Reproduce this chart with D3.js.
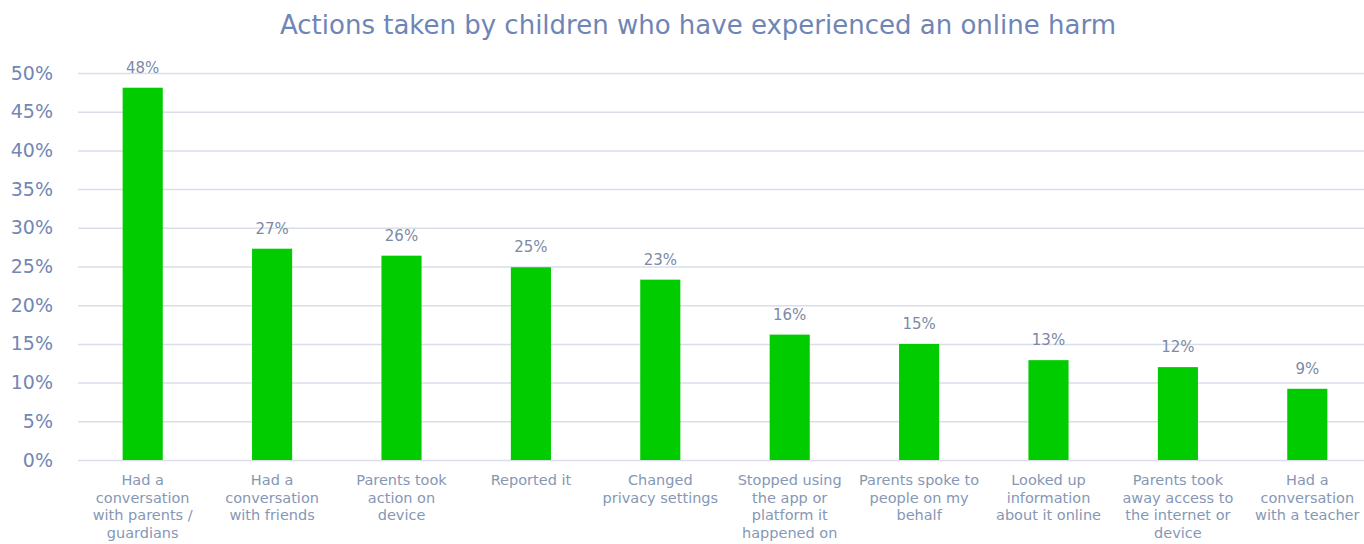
<!DOCTYPE html>
<html>
<head>
<meta charset="utf-8">
<script src="https://cdn.jsdelivr.net/npm/d3@7"></script>
<style>
  html, body { margin: 0; padding: 0; background: #fff; }
  svg { display: block; font-family: "DejaVu Sans", sans-serif; }
</style>
</head>
<body>
<div id="chart"></div>
<script>
const title = "Actions taken by children who have experienced an online harm";
const categories = [
  "Had a\nconversation\nwith parents /\nguardians",
  "Had a\nconversation\nwith friends",
  "Parents took\naction on\ndevice",
  "Reported it",
  "Changed\nprivacy settings",
  "Stopped using\nthe app or\nplatform it\nhappened on",
  "Parents spoke to\npeople on my\nbehalf",
  "Looked up\ninformation\nabout it online",
  "Parents took\naway access to\nthe internet or\ndevice",
  "Had a\nconversation\nwith a teacher"
];
const values = [48.1, 27.3, 26.4, 24.9, 23.3, 16.2, 15.0, 12.9, 12.0, 9.2];
const yTicks = [0, 5, 10, 15, 20, 25, 30, 35, 40, 45, 50];

const width = 1364, height = 544;
const margin = { top: 73, right: -8, bottom: 84, left: 78 };
const innerWidth = width - margin.left - margin.right;
const innerHeight = height - margin.top - margin.bottom;

const svg = d3.select("#chart").append("svg")
  .attr("width", width).attr("height", height);

svg.append("text")
  .attr("x", 698).attr("y", 34)
  .attr("text-anchor", "middle")
  .attr("fill", "#6f85b6")
  .attr("font-size", 26)
  .text(title);

const g = svg.append("g").attr("transform", `translate(${margin.left},${margin.top})`);

const x = d3.scaleBand().domain(d3.range(categories.length)).range([0, innerWidth]).paddingInner(0.69).paddingOuter(0.345);
const y = d3.scaleLinear().domain([0, 50]).range([innerHeight, 0]);

// grid
g.append("g")
  .call(d3.axisLeft(y).tickValues(yTicks).tickSize(-innerWidth).tickFormat(""))
  .call(s => s.select(".domain").remove())
  .call(s => s.selectAll("text").remove())
  .call(s => s.selectAll("line").attr("stroke", "#d9deea").attr("stroke-width", 1.5));

// y axis labels
g.append("g")
  .attr("transform", "translate(-22,0)")
  .call(d3.axisLeft(y).tickValues(yTicks).tickSize(0).tickFormat(d => d + "%"))
  .call(s => s.select(".domain").remove())
  .call(s => s.selectAll("text").attr("fill", "#7287b5").attr("font-size", 19).attr("font-family", "DejaVu Sans"));

// bars
g.selectAll("rect.bar").data(values).join("rect")
  .attr("class", "bar")
  .attr("x", (d, i) => x(i))
  .attr("width", x.bandwidth())
  .attr("y", d => y(d))
  .attr("height", d => innerHeight - y(d))
  .attr("fill", "#00cc00");

// value labels
g.selectAll("text.val").data(values).join("text")
  .attr("class", "val")
  .attr("x", (d, i) => x(i) + x.bandwidth() / 2)
  .attr("y", d => y(d) - 15)
  .attr("text-anchor", "middle")
  .attr("fill", "#7b8aa6")
  .attr("font-size", 15)
  .text(d => Math.round(d) + "%");

// category labels
const xAxis = g.append("g").attr("transform", `translate(0,${innerHeight})`);
categories.forEach((c, i) => {
  const t = xAxis.append("text")
    .attr("x", x(i) + x.bandwidth() / 2)
    .attr("y", 25)
    .attr("text-anchor", "middle")
    .attr("fill", "#8697b5")
    .attr("font-size", 14.5);
  c.split("\n").forEach((line, k) => {
    t.append("tspan").attr("x", x(i) + x.bandwidth() / 2).attr("dy", k === 0 ? 0 : 17.5).text(line);
  });
});
</script>
</body>
</html>
